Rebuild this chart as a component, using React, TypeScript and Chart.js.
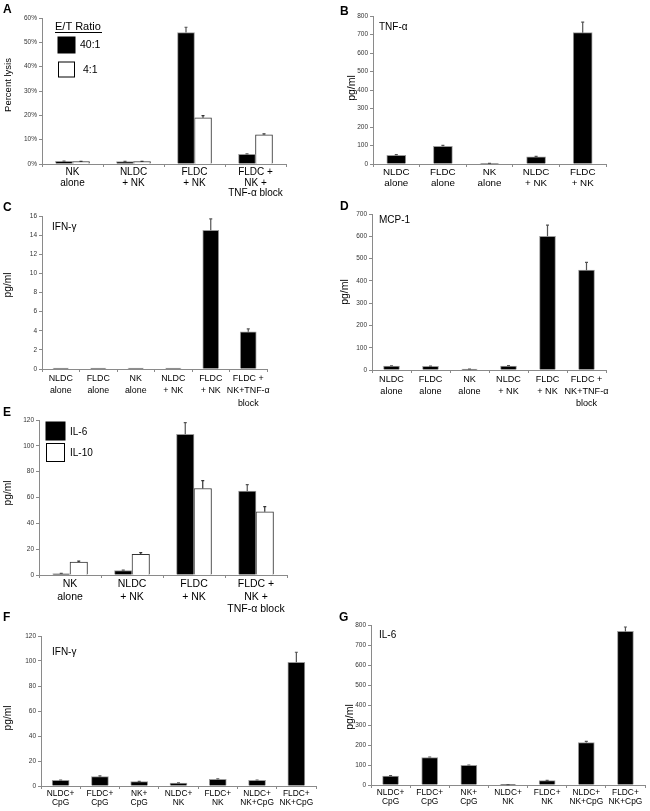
import { useEffect, useRef } from "react";
import { Chart, registerables } from "chart.js";
Chart.register(...registerables);

const FONT = "'Liberation Sans', Arial, Helvetica, sans-serif";
const AXIS = "#8a8a8a";

// ---------- Panel A : percent lysis ----------
const aCategories = [["NK", "alone"], ["NLDC", "+ NK"], ["FLDC", "+ NK"], ["FLDC +", "NK +", "TNF-α block"]];
const aLysis40 = [1.1, 1, 54, 4];
const aLysis40Err = [0.1, 0.1, 2.2, 0.2];
const aLysis4 = [1, 1, 19, 12];
const aLysis4Err = [0.1, 0.1, 0.9, 0.4];
const aTicks = [0, 10, 20, 30, 40, 50, 60];

// ---------- Panel B : TNF-α ----------
const bCategories = [["NLDC", "alone"], ["FLDC", "alone"], ["NK", "alone"], ["NLDC", "+ NK"], ["FLDC", "+ NK"]];
const bTnf = [47, 96, 3, 39, 710];
const bTnfErr = [4, 5, 0.5, 2, 57];
const bTicks = [0, 100, 200, 300, 400, 500, 600, 700, 800];

// ---------- Panel C : IFN-γ ----------
const cCategories = [["NLDC", "alone"], ["FLDC", "alone"], ["NK", "alone"], ["NLDC", "+ NK"], ["FLDC", "+ NK"], ["FLDC +", "NK+TNF-α", "block"]];
const cIfn = [0.1, 0.1, 0.1, 0.1, 14.5, 3.9];
const cIfnErr = [0, 0, 0, 0, 1.2, 0.3];
const cTicks = [0, 2, 4, 6, 8, 10, 12, 14, 16];

// ---------- Panel D : MCP-1 ----------
const dCategories = [["NLDC", "alone"], ["FLDC", "alone"], ["NK", "alone"], ["NLDC", "+ NK"], ["FLDC", "+ NK"], ["FLDC +", "NK+TNF-α", "block"]];
const dMcp = [18, 16, 4, 18, 600, 448];
const dMcpErr = [1, 1, 0.5, 1.5, 50, 35];
const dTicks = [0, 100, 200, 300, 400, 500, 600, 700];

// ---------- Panel E : IL-6 / IL-10 ----------
const eCategories = [["NK", "alone"], ["NLDC", "+ NK"], ["FLDC", "+ NK"], ["FLDC +", "NK +", "TNF-α block"]];
const eIl6 = [1, 3.5, 109, 65];
const eIl6Err = [0.2, 0.3, 9, 5];
const eIl10 = [10, 16, 67, 49];
const eIl10Err = [0.8, 1.3, 6, 4];
const eTicks = [0, 20, 40, 60, 80, 100, 120];

// ---------- Panel F : IFN-γ with CpG ----------
const fgCategories = [["NLDC+", "CpG"], ["FLDC+", "CpG"], ["NK+", "CpG"], ["NLDC+", "NK"], ["FLDC+", "NK"], ["NLDC+", "NK+CpG"], ["FLDC+", "NK+CpG"]];
const fIfn = [4.5, 7.5, 3.5, 2.3, 5.3, 4.5, 99];
const fIfnErr = [0.3, 0.6, 0.2, 0.2, 0.5, 0.3, 8];
const fTicks = [0, 20, 40, 60, 80, 100, 120];

// ---------- Panel G : IL-6 with CpG ----------
const gIl6 = [45, 137, 98, 2, 22, 212, 768];
const gIl6Err = [2, 3, 2, 0.3, 1, 6, 22];
const gTicks = [0, 100, 200, 300, 400, 500, 600, 700, 800];

type Series = { values: number[]; errors: number[]; fill: string; border: string; errColor: string };
type Item =
  | { t: "text"; x: number; y: number; s: string; size: number; bold?: boolean; rot?: boolean }
  | { t: "rect"; x: number; y: number; w: number; h: number; fill: string; stroke: string }
  | { t: "line"; x1: number; y1: number; x2: number; y2: number; color: string };

type Panel = {
  box: [number, number, number, number];
  area: [number, number, number, number];
  categories: string[][];
  series: Series[];
  ticks: number[];
  fmt?: (v: number) => string;
  barW: number;
  catSize: number;
  catLH: number;
  items: Item[];
};

const blackS = (values: number[], errors: number[]): Series => ({ values, errors, fill: "#000", border: "#9a9a9a", errColor: "#555" });
const whiteS = (values: number[], errors: number[]): Series => ({ values, errors, fill: "#fff", border: "#333", errColor: "#333" });

const panels: Panel[] = [
  {
    box: [0, 0, 300, 204],
    area: [42, 18, 286, 164],
    categories: aCategories,
    series: [blackS(aLysis40, aLysis40Err), whiteS(aLysis4, aLysis4Err)],
    ticks: aTicks,
    fmt: (v) => v + "%",
    barW: 17,
    catSize: 10,
    catLH: 1.05,
    items: [
      { t: "text", x: 3, y: 10, s: "A", size: 12, bold: true },
      { t: "text", x: 8, y: 85, s: "Percent lysis", size: 9.5, rot: true },
      { t: "text", x: 55, y: 26.5, s: "E/T Ratio", size: 11 },
      { t: "line", x1: 55, y1: 32.5, x2: 102, y2: 32.5, color: "#000" },
      { t: "rect", x: 58, y: 37, w: 17, h: 16, fill: "#000", stroke: "#000" },
      { t: "text", x: 80, y: 45, s: "40:1", size: 10.5 },
      { t: "rect", x: 58.5, y: 62, w: 16, h: 15, fill: "#fff", stroke: "#000" },
      { t: "text", x: 83, y: 70, s: "4:1", size: 10.5 },
    ],
  },
  {
    box: [330, 0, 320, 200],
    area: [373, 16, 606, 164],
    categories: bCategories,
    series: [blackS(bTnf, bTnfErr)],
    ticks: bTicks,
    barW: 19,
    catSize: 9.8,
    catLH: 1.12,
    items: [
      { t: "text", x: 340, y: 12, s: "B", size: 12, bold: true },
      { t: "text", x: 379, y: 27, s: "TNF-α", size: 10 },
      { t: "text", x: 352, y: 88, s: "pg/ml", size: 10.5, rot: true },
    ],
  },
  {
    box: [0, 196, 300, 215],
    area: [42, 216, 267, 369],
    categories: cCategories,
    series: [blackS(cIfn, cIfnErr)],
    ticks: cTicks,
    barW: 16,
    catSize: 8.9,
    catLH: 1.42,
    items: [
      { t: "text", x: 3, y: 207.5, s: "C", size: 12, bold: true },
      { t: "text", x: 52, y: 227, s: "IFN-γ", size: 10 },
      { t: "text", x: 8, y: 285, s: "pg/ml", size: 10.2, rot: true },
    ],
  },
  {
    box: [330, 196, 320, 216],
    area: [372, 214, 606, 370],
    categories: dCategories,
    series: [blackS(dMcp, dMcpErr)],
    ticks: dTicks,
    barW: 16,
    catSize: 9.1,
    catLH: 1.36,
    items: [
      { t: "text", x: 340, y: 206.5, s: "D", size: 12, bold: true },
      { t: "text", x: 379, y: 220.5, s: "MCP-1", size: 10 },
      { t: "text", x: 345, y: 292, s: "pg/ml", size: 10.5, rot: true },
    ],
  },
  {
    box: [0, 402, 300, 218],
    area: [39, 420, 287, 575],
    categories: eCategories,
    series: [blackS(eIl6, eIl6Err), whiteS(eIl10, eIl10Err)],
    ticks: eTicks,
    barW: 17.5,
    catSize: 10.5,
    catLH: 1.2,
    items: [
      { t: "text", x: 3, y: 413, s: "E", size: 12, bold: true },
      { t: "rect", x: 46, y: 422, w: 19, h: 18, fill: "#000", stroke: "#000" },
      { t: "text", x: 70, y: 432, s: "IL-6", size: 10 },
      { t: "rect", x: 46.5, y: 443.5, w: 18, h: 18, fill: "#fff", stroke: "#000" },
      { t: "text", x: 70, y: 453, s: "IL-10", size: 10 },
      { t: "text", x: 8, y: 493, s: "pg/ml", size: 10.2, rot: true },
    ],
  },
  {
    box: [0, 608, 330, 203],
    area: [41, 636, 316, 786],
    categories: fgCategories,
    series: [blackS(fIfn, fIfnErr)],
    ticks: fTicks,
    barW: 17,
    catSize: 8.4,
    catLH: 1.12,
    items: [
      { t: "text", x: 3, y: 618, s: "F", size: 12, bold: true },
      { t: "text", x: 52, y: 652, s: "IFN-γ", size: 10 },
      { t: "text", x: 8, y: 718, s: "pg/ml", size: 10.2, rot: true },
    ],
  },
  {
    box: [330, 608, 320, 203],
    area: [371, 625, 645, 785],
    categories: fgCategories,
    series: [blackS(gIl6, gIl6Err)],
    ticks: gTicks,
    barW: 16,
    catSize: 8.4,
    catLH: 1.12,
    items: [
      { t: "text", x: 339, y: 617.5, s: "G", size: 12, bold: true },
      { t: "text", x: 379, y: 635, s: "IL-6", size: 10 },
      { t: "text", x: 350, y: 717, s: "pg/ml", size: 10.5, rot: true },
    ],
  },
];

const errorBars = {
  id: "errorBars",
  afterDatasetsDraw(chart: any) {
    const ctx = chart.ctx;
    const yScale = chart.scales.y;
    chart.data.datasets.forEach((ds: any, di: number) => {
      const meta = chart.getDatasetMeta(di);
      meta.data.forEach((bar: any, i: number) => {
        const err = ds.errors?.[i] ?? 0;
        if (!err) return;
        const top = yScale.getPixelForValue(ds.data[i] + err);
        ctx.save();
        ctx.strokeStyle = ds.errColor;
        ctx.lineWidth = 1.2;
        ctx.beginPath();
        ctx.moveTo(bar.x, bar.y);
        ctx.lineTo(bar.x, top);
        ctx.moveTo(bar.x - 1.5, top);
        ctx.lineTo(bar.x + 1.5, top);
        ctx.stroke();
        ctx.restore();
      });
    });
  },
};

function overlayPlugin(p: Panel) {
  return {
    id: "overlay",
    afterDraw(chart: any) {
      const ctx = chart.ctx as CanvasRenderingContext2D;
      const [ox, oy] = p.box;
      ctx.save();
      for (const it of p.items) {
        if (it.t === "text") {
          ctx.fillStyle = "#000";
          ctx.font = `${it.bold ? "bold " : ""}${it.size}px ${FONT}`;
          ctx.textBaseline = "middle";
          if (it.rot) {
            ctx.save();
            ctx.translate(it.x - ox, it.y - oy);
            ctx.rotate(-Math.PI / 2);
            ctx.textAlign = "center";
            ctx.fillText(it.s, 0, 0);
            ctx.restore();
          } else {
            ctx.textAlign = "left";
            ctx.fillText(it.s, it.x - ox, it.y - oy);
          }
        } else if (it.t === "rect") {
          ctx.fillStyle = it.fill;
          ctx.fillRect(it.x - ox, it.y - oy, it.w, it.h);
          ctx.strokeStyle = it.stroke;
          ctx.lineWidth = 1;
          ctx.strokeRect(it.x - ox, it.y - oy, it.w, it.h);
        } else {
          ctx.strokeStyle = it.color;
          ctx.lineWidth = 1;
          ctx.beginPath();
          ctx.moveTo(it.x1 - ox, it.y1 - oy);
          ctx.lineTo(it.x2 - ox, it.y2 - oy);
          ctx.stroke();
        }
      }
      ctx.restore();
    },
  };
}

function buildConfig(p: Panel): any {
  const [x0, y0, w, h] = p.box;
  const [L, T, R, B] = p.area;
  const ticks = p.ticks;
  return {
    type: "bar",
    data: {
      labels: p.categories,
      datasets: p.series.map((s) => ({
        data: s.values,
        errors: s.errors,
        errColor: s.errColor,
        backgroundColor: s.fill,
        borderColor: s.border,
        borderWidth: 1,
        barThickness: p.barW,
      })),
    },
    options: {
      responsive: false,
      animation: false,
      events: [],
      layout: { padding: { left: 0, top: T - y0, right: x0 + w - R, bottom: 0 } },
      plugins: { legend: { display: false }, tooltip: { enabled: false }, title: { display: false } },
      scales: {
        x: {
          offset: true,
          grid: { display: true, offset: true, drawOnChartArea: false, drawTicks: true, tickLength: 3, color: AXIS },
          border: { display: true, color: AXIS, width: 1 },
          ticks: {
            color: "#000",
            font: { family: FONT, size: p.catSize, lineHeight: p.catLH },
            padding: 0,
            maxRotation: 0,
            autoSkip: false,
          },
          afterFit: (s: any) => {
            s.height = y0 + h - B;
          },
        },
        y: {
          min: ticks[0],
          max: ticks[ticks.length - 1],
          grid: { display: true, drawOnChartArea: false, drawTicks: true, tickLength: 3, color: AXIS },
          border: { display: true, color: AXIS, width: 1 },
          ticks: {
            color: "#333",
            font: { family: FONT, size: 6.5 },
            padding: 2,
            callback: (v: number) => (p.fmt ? p.fmt(v) : String(v)),
          },
          afterBuildTicks: (s: any) => {
            s.ticks = ticks.map((v) => ({ value: v }));
          },
          afterFit: (s: any) => {
            s.width = L - x0;
          },
        },
      },
    },
    plugins: [errorBars, overlayPlugin(p)],
  };
}

function PanelChart({ panel }: { panel: Panel }) {
  const ref = useRef<HTMLCanvasElement>(null);
  useEffect(() => {
    const chart = new Chart(ref.current!, buildConfig(panel));
    return () => chart.destroy();
  }, [panel]);
  const [x, y, w, h] = panel.box;
  return (
    <div style={{ position: "absolute", left: x, top: y, width: w, height: h }}>
      <canvas ref={ref} width={w} height={h} style={{ width: w, height: h, display: "block" }} />
    </div>
  );
}

export default function App() {
  return (
    <div style={{ position: "absolute", left: 0, top: 0, width: 650, height: 811, background: "#fff", overflow: "hidden" }}>
      {panels.map((p, i) => (
        <PanelChart key={i} panel={p} />
      ))}
    </div>
  );
}
